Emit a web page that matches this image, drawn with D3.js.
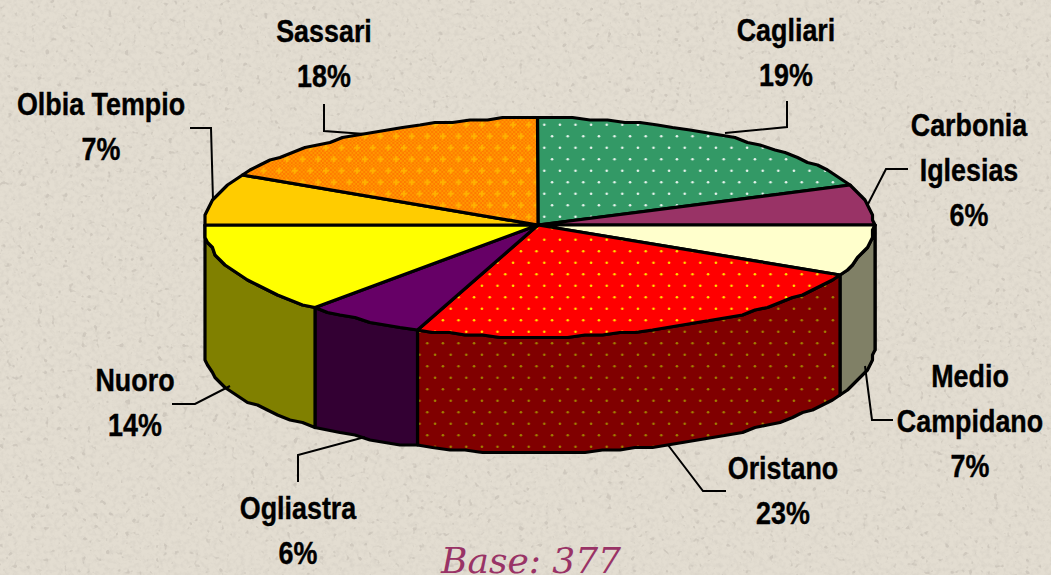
<!DOCTYPE html>
<html>
<head>
<meta charset="utf-8">
<script src="https://cdn.jsdelivr.net/npm/d3@7"></script>
<style>
  html, body { margin: 0; padding: 0; background: #e0d9cd; overflow: hidden; }
  svg { display: block; }
  .label { font-family: "Liberation Sans", Arial, sans-serif; font-weight: bold; font-size: 32px; fill: #000; stroke: #000; stroke-width: 0.4px; text-anchor: middle; }
  .base { font-family: "DejaVu Serif", serif; font-style: italic; font-size: 36px; fill: #993366; }
</style>
</head>
<body>
<div class="canvas"></div>
<script>
const width = 1051;
const height = 575;

// Data, clockwise from 12 o'clock
const categories = ["Cagliari", "Carbonia Iglesias", "Medio Campidano", "Oristano", "Ogliastra", "Nuoro", "Olbia Tempio", "Sassari"];
const shares = [19, 6, 7.3, 23.6, 5.8, 13.3, 7.7, 17.3]; // slice sizes
const percentLabels = ["19%", "6%", "7%", "23%", "6%", "14%", "7%", "18%"];
const topColors = ["url(#dotsGreen)", "#993366", "#ffffcc", "url(#dotsRed)", "#660066", "#ffff00", "#ffcc00", "url(#checkOrange)"];
const sideColors = ["#1a4d33", "#4d1a33", "#808066", "url(#dotsDarkRed)", "#330033", "#808000", "#806600", "#804d00"];

// Label layout
const labelX = [786, 969, 970, 783, 298, 135, 101, 324];
const labelY = [41, 136, 387, 479, 519, 391, 115, 42];
const lineGap = 45;
const labelLines = [["Cagliari"], ["Carbonia", "Iglesias"], ["Medio", "Campidano"], ["Oristano"], ["Ogliastra"], ["Nuoro"], ["Olbia Tempio"], ["Sassari"]];

const leaders = [
  [[725, 133], [787, 127], [787, 101]],
  [[867, 206], [886, 169], [908, 169]],
  [[865, 366], [872, 420], [893, 420]],
  [[668, 445], [703, 491], [726, 491]],
  [[365, 437], [298, 455], [298, 482]],
  [[230, 386], [195, 404], [172, 404]],
  [[213, 200], [211, 128], [190, 128]],
  [[365, 134], [324, 131], [324, 104]]
];

// Scales: unit circle -> flattened pie, nearer half slightly deeper
const xScale = d3.scaleLinear().domain([-1, 0, 1]).range([204, 538, 874]);
const yTop = d3.scaleLinear().domain([-1, 0, 1]).range([118, 225, 337]);
const yBottom = d3.scaleLinear().domain([-1, 0, 1]).range([245, 350, 453]);

const pie = d3.pie().sort(null).value(d => d);
const arcs = pie(shares);

const snap = v => Math.round(v / 2.5) * 2.5;
const rimPoint = (a, y) => [snap(xScale(Math.sin(a))), snap(y(-Math.cos(a)))];

function rim(a0, a1, y) {
  const n = Math.max(2, Math.ceil((a1 - a0) / (Math.PI / 60)));
  return d3.range(n + 1).map(i => rimPoint(a0 + (a1 - a0) * i / n, y));
}

const line = d3.line();

const svg = d3
  .select(".canvas")
  .append("svg")
  .attr("width", width)
  .attr("height", height);

// Patterns and paper texture
const defs = svg.append("defs");

function dotPattern(id, bg, dot, r) {
  const p = defs.append("pattern")
    .attr("id", id)
    .attr("patternUnits", "userSpaceOnUse")
    .attr("x", 10).attr("y", 4)
    .attr("width", 15.6).attr("height", 23);
  p.append("rect").attr("width", 15.6).attr("height", 23).attr("fill", bg);
  p.append("circle").attr("cx", 3.9).attr("cy", 5.75).attr("r", r).attr("fill", dot);
  p.append("circle").attr("cx", 11.7).attr("cy", 17.25).attr("r", r).attr("fill", dot);
}
dotPattern("dotsGreen", "#339966", "#e8f4ee", 1.3);
dotPattern("dotsRed", "#ff0000", "#ffe000", 1.3);
dotPattern("dotsDarkRed", "#800000", "#a08000", 1.3);

// orange: fine dither with pale plus marks
const dither = defs.append("pattern")
  .attr("id", "ditherOrange")
  .attr("patternUnits", "userSpaceOnUse")
  .attr("width", 4).attr("height", 4);
dither.append("rect").attr("width", 4).attr("height", 4).attr("fill", "#ff9900");
dither.append("rect").attr("width", 2).attr("height", 2).attr("fill", "#ff7a00");
dither.append("rect").attr("x", 2).attr("y", 2).attr("width", 2).attr("height", 2).attr("fill", "#ff7a00");

const check = defs.append("pattern")
  .attr("id", "checkOrange")
  .attr("patternUnits", "userSpaceOnUse")
  .attr("x", 10).attr("y", 4)
  .attr("width", 15.6).attr("height", 23);
check.append("rect").attr("width", 15.6).attr("height", 23).attr("fill", "url(#ditherOrange)");
[[3.9, 5.75], [11.7, 17.25]].forEach(p => {
  check.append("rect").attr("x", p[0] - 3).attr("y", p[1] - 1).attr("width", 6).attr("height", 2).attr("fill", "#ffb000");
  check.append("rect").attr("x", p[0] - 1).attr("y", p[1] - 3).attr("width", 2).attr("height", 6).attr("fill", "#ffb000");
});

const paper = defs.append("filter")
  .attr("id", "paper")
  .attr("x", 0).attr("y", 0)
  .attr("width", "100%").attr("height", "100%");
paper.append("feTurbulence")
  .attr("type", "fractalNoise")
  .attr("baseFrequency", 0.22)
  .attr("numOctaves", 3)
  .attr("seed", 7);
paper.append("feColorMatrix")
  .attr("type", "matrix")
  .attr("values", "0 0 0 0 0.66  0 0 0 0 0.62  0 0 0 0 0.55  1.5 0 0 0 -0.62");

const specks = defs.append("filter")
  .attr("id", "specks")
  .attr("x", 0).attr("y", 0)
  .attr("width", "100%").attr("height", "100%");
specks.append("feTurbulence")
  .attr("type", "fractalNoise")
  .attr("baseFrequency", 0.16)
  .attr("numOctaves", 2)
  .attr("seed", 23);
specks.append("feColorMatrix")
  .attr("type", "matrix")
  .attr("values", "0 0 0 0 0.55  0 0 0 0 0.51  0 0 0 0 0.45  9 0 0 0 -6.1");

svg.append("rect").attr("width", width).attr("height", height).attr("fill", "#e3ddd1");
svg.append("rect").attr("width", width).attr("height", height).attr("filter", "url(#paper)");
svg.append("rect").attr("width", width).attr("height", height).attr("filter", "url(#specks)").attr("opacity", 0.6);

// Side walls: only the front half of the rim shows
const front = arcs.filter(d => d.startAngle < Math.PI * 1.5 && d.endAngle > Math.PI / 2);
svg.append("g")
  .selectAll("path")
  .data(front)
  .enter()
  .append("path")
  .attr("d", d => {
    const a0 = Math.max(d.startAngle, Math.PI / 2);
    const a1 = Math.min(d.endAngle, Math.PI * 1.5);
    return line(rim(a0, a1, yTop).concat(rim(a0, a1, yBottom).reverse())) + "Z";
  })
  .attr("fill", d => sideColors[d.index])
  .attr("stroke", "#000")
  .attr("stroke-width", 3.2)
  .attr("stroke-linejoin", "round");

// Top face
const cx = xScale(0);
const cy = yTop(0);
svg.append("g")
  .selectAll("path")
  .data(arcs)
  .enter()
  .append("path")
  .attr("d", d => line([[cx, cy]].concat(rim(d.startAngle, d.endAngle, yTop))) + "Z")
  .attr("fill", d => topColors[d.index])
  .attr("stroke", "#000")
  .attr("stroke-width", 3.2)
  .attr("stroke-linejoin", "round");

// Leader lines
svg.append("g")
  .selectAll("path")
  .data(leaders)
  .enter()
  .append("path")
  .attr("d", d => line(d))
  .attr("fill", "none")
  .attr("stroke", "#000")
  .attr("stroke-width", 2);

// Labels
const labels = svg.append("g")
  .selectAll("g")
  .data(categories)
  .enter()
  .append("g")
  .attr("transform", (d, i) => `translate(${labelX[i]},${labelY[i]}) scale(0.84,1)`);

labels.each(function(d, i) {
  const rows = labelLines[i].concat(percentLabels[i]);
  d3.select(this)
    .selectAll("text")
    .data(rows)
    .enter()
    .append("text")
    .attr("class", "label")
    .attr("y", (r, j) => j * lineGap)
    .text(r => r);
});

svg.append("text")
  .attr("class", "base")
  .attr("x", 441)
  .attr("y", 573)
  .text("Base: 377");
</script>
</body>
</html>
